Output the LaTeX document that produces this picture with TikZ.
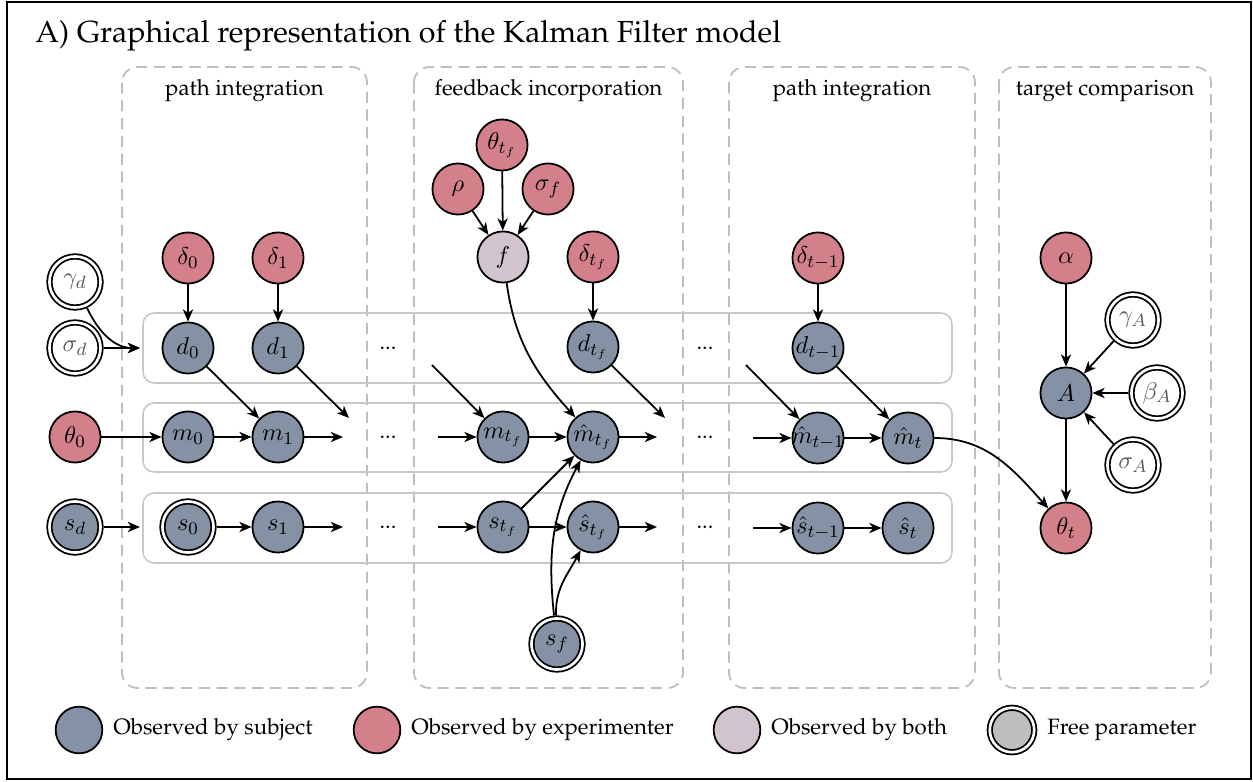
\documentclass[tikz,border=0pt]{standalone}
\usepackage[T1]{fontenc}
\renewcommand{\rmdefault}{ppl}
\usetikzlibrary{arrows.meta,positioning}
\definecolor{subjcol}{HTML}{8592A6}
\definecolor{expmcol}{HTML}{D4808B}
\definecolor{bothcol}{HTML}{D2C4CE}
\definecolor{boxgray}{HTML}{BEBEBE}
\definecolor{rowgray}{HTML}{C8C8C8}
\begin{document}
\begin{tikzpicture}[x=0.45pt,y=-0.45pt,
  >={Stealth[length=5.5pt,width=4.6pt,inset=1.6pt]},
  var/.style={circle,draw,thick,minimum size=23pt,inner sep=0pt,font=\fontsize{11}{13}\selectfont},
  subj/.style={var,fill=subjcol},
  expm/.style={var,fill=expmcol},
  both/.style={var,fill=bothcol},
  free/.style={double,double distance=1.2pt,outer sep=1.4pt},
  param/.style={var,free,fill=white,text=black!65},
  wide/.style={inner sep=-3pt},
  colbox/.style={draw=boxgray,line width=0.8pt,dash pattern=on 5pt off 3pt,rounded corners=7pt},
  rowbox/.style={draw=rowgray,line width=0.7pt,rounded corners=5pt},
  arr/.style={->,thick}]
\useasboundingbox (0,0) rectangle (1253,782);
\draw[line width=0.6pt] (7,2) rectangle (1251,779);
\node[anchor=base west,inner sep=0pt,font=\fontsize{13.7}{16}\selectfont] (title) at (35,43) {A) Graphical representation of the Kalman Filter model};

% stages
\draw[colbox] (122,67) rectangle (367,688);
\draw[colbox] (414,67) rectangle (683,688);
\draw[colbox] (729,67) rectangle (975,688);
\draw[colbox] (999,67) rectangle (1211,688);
\node[anchor=base] (lab1) at (244.5,96) {path integration};
\node[anchor=base] (lab2) at (548.5,96) {feedback incorporation};
\node[anchor=base] (lab3) at (852,96) {path integration};
\node[anchor=base] (lab4) at (1105,96) {target comparison};

% rows
\draw[rowbox] (143,313) rectangle (952,383);
\draw[rowbox] (143,403) rectangle (952,472);
\draw[rowbox] (143,493) rectangle (952,563);

% priors
\node[param] (gammad) at (75,282) {$\gamma_d$};
\node[param] (sigmad) at (75,348) {$\sigma_d$};
\node[expm] (theta0) at (75,437) {$\theta_0$};
\node[subj,free] (sd) at (75,527) {$s_d$};

% path integration
\node[expm] (delta0) at (188,258) {$\delta_0$};
\node[expm] (delta1) at (278,258) {$\delta_1$};
\node[subj] (d0) at (188,348) {$d_0$};
\node[subj] (d1) at (278,348) {$d_1$};
\node[subj] (m0) at (188,437) {$m_0$};
\node[subj] (m1) at (278,437) {$m_1$};
\node[subj,free] (s0) at (188,527) {$s_0$};
\node[subj] (s1) at (278,527) {$s_1$};

% feedback
\node[expm] (thetatf) at (502,145) {$\theta_{t_f}$};
\node[expm] (rho) at (458,189) {$\rho$};
\node[expm] (sigmaf) at (548,189) {$\sigma_f$};
\node[both] (f) at (503,257) {$f$};
\node[expm] (deltatf) at (593,257) {$\delta_{t_f}$};
\node[subj] (dtf) at (593,347) {$d_{t_f}$};
\node[subj] (mtf) at (503,437) {$m_{t_f}$};
\node[subj] (mhtf) at (593,437) {$\hat m_{t_f}$};
\node[subj] (stf) at (503,527) {$s_{t_f}$};
\node[subj] (shtf) at (593,527) {$\hat s_{t_f}$};
\node[subj,free] (sf) at (557,644) {$s_f$};

% path integration again
\node[expm,wide] (deltat) at (818,258) {$\delta_{t-1}$};
\node[subj,wide] (dt) at (818,348) {$d_{t-1}$};
\node[subj,wide] (mht1) at (818,438) {$\hat m_{t-1}$};
\node[subj] (mht) at (908,438) {$\hat m_t$};
\node[subj,wide] (sht1) at (818,528) {$\hat s_{t-1}$};
\node[subj] (sht) at (908,528) {$\hat s_t$};

% target
\node[expm] (alpha) at (1066,258) {$\alpha$};
\node[param] (gammaA) at (1133,320) {$\gamma_A$};
\node[subj] (A) at (1066,393) {$A$};
\node[param] (betaA) at (1157,393) {$\beta_A$};
\node[param] (sigmaA) at (1133,465) {$\sigma_A$};
\node[expm] (thetat) at (1066,528) {$\theta_t$};

\foreach \x in {388,705}
  \foreach \y in {348,437,527}
    \node (dots\x\y) at (\x,\y) {...};

\coordinate (jd) at (140,348);
\coordinate (jsd) at (140,527);
\coordinate (m1out) at (343,437);
\coordinate (s1out) at (343,527);
\coordinate (d1out) at (349,418);
\coordinate (mtfin) at (438,437);
\coordinate (stfin) at (438,527);
\coordinate (dtfin) at (432,365);
\coordinate (mhtfout) at (657,437);
\coordinate (shtfout) at (657,527);
\coordinate (dtfout) at (665,418);
\coordinate (mht1in) at (753,438);
\coordinate (sht1in) at (753,528);
\coordinate (dt1in) at (746,365);

\draw[arr] (gammad) to[out=-65,in=180] (jd);
\draw[arr] (sigmad) -- (jd);
\draw[arr] (theta0) -- (m0);
\draw[arr] (sd) -- (jsd);
\draw[arr] (delta0) -- (d0);
\draw[arr] (delta1) -- (d1);
\draw[arr] (d0) -- (m1);
\draw[arr] (d1) -- (d1out);
\draw[arr] (m0) -- (m1);
\draw[arr] (m1) -- (m1out);
\draw[arr] (s0) -- (s1);
\draw[arr] (s1) -- (s1out);

\draw[arr] (rho) -- (f);
\draw[arr] (thetatf) -- (f);
\draw[arr] (sigmaf) -- (f);
\draw[arr] (deltatf) -- (dtf);
\draw[arr] (dtfin) -- (mtf);
\draw[arr] (mtfin) -- (mtf);
\draw[arr] (stfin) -- (stf);
\draw[arr] (mtf) -- (mhtf);
\draw[arr] (stf) -- (shtf);
\draw[arr] (stf) -- (mhtf);
\draw[arr] (f) to[out=-82,in=132] (mhtf);
\draw[arr] (sf) to[out=96,in=-118] (mhtf);
\draw[arr] (sf) to[out=92,in=-118] (shtf);
\draw[arr] (dtf) -- (dtfout);
\draw[arr] (mhtf) -- (mhtfout);
\draw[arr] (shtf) -- (shtfout);

\draw[arr] (deltat) -- (dt);
\draw[arr] (dt1in) -- (mht1);
\draw[arr] (dt) -- (mht);
\draw[arr] (mht1in) -- (mht1);
\draw[arr] (mht1) -- (mht);
\draw[arr] (sht1in) -- (sht1);
\draw[arr] (sht1) -- (sht);

\draw[arr] (alpha) -- (A);
\draw[arr] (gammaA) -- (A);
\draw[arr] (betaA) -- (A);
\draw[arr] (sigmaA) -- (A);
\draw[arr] (A) -- (thetat);
\draw[arr] (mht) to[out=0,in=132] (thetat);

% legend
\node[subj,minimum size=21pt] (lsubj) at (79,730) {};
\node[right=1pt of lsubj] (tsubj) {Observed by subject};
\node[expm,minimum size=21pt] (lexpm) at (377,730) {};
\node[right=1pt of lexpm] (texpm) {Observed by experimenter};
\node[both,minimum size=21pt] (lboth) at (737,730) {};
\node[right=1pt of lboth] (tboth) {Observed by both};
\node[var,free,fill=boxgray,minimum size=20pt] (lfree) at (1012,730) {};
\node[right=1pt of lfree] (tfree) {Free parameter};
\end{tikzpicture}
\end{document}
